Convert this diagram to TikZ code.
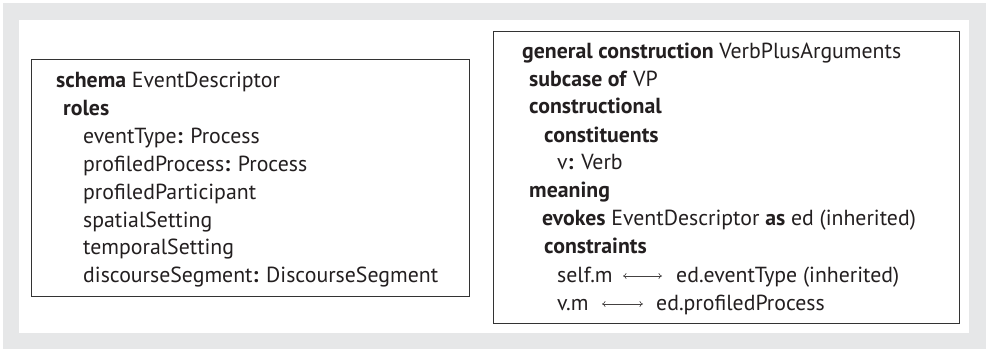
\documentclass[tikz,border=0pt]{standalone}
\usepackage{fontspec}
\setmainfont{PT Sans}
\usetikzlibrary{arrows.meta}
\definecolor{bggray}{HTML}{E6E7E8}
\definecolor{ink}{HTML}{231F20}
\definecolor{boxline}{HTML}{333333}
\begin{document}
\begin{tikzpicture}[x=1pt,y=-1pt,
  ln/.style={anchor=base west,inner sep=0pt,text=ink,font=\fontsize{21.8}{26}\selectfont},
  frame/.style={draw=boxline,line width=1.3pt,fill=white},
  corr/.style={{Computer Modern Rightarrow[length=3.5pt,width=6pt]}-{Computer Modern Rightarrow[length=3.5pt,width=6pt]},line width=0.6pt,draw=ink!85}]
\useasboundingbox (0,0) rectangle (986,349);
\fill[bggray] (3,3) rectangle (986,349);
\fill[white] (19,20) rectangle (969,333);
% left box
\node[frame,inner sep=0pt,minimum width=438pt,minimum height=237pt,anchor=north west] (lbox) at (31,59) {};
\node[ln] (s1) at (56,87) {\textbf{schema} EventDescriptor};
\node[ln] (s2) at (63,115) {\textbf{roles}};
\node[ln] (s3) at (83,143) {eventType\textbf{:} Process};
\node[ln] (s4) at (83,171) {profiledProcess\textbf{:} Process};
\node[ln] (s5) at (83,199) {profiledParticipant};
\node[ln] (s6) at (83,227) {spatialSetting};
\node[ln] (s7) at (83,254) {temporalSetting};
\node[ln] (s8) at (83,282) {discourseSegment\textbf{:} DiscourseSegment};
% right box
\node[frame,inner sep=0pt,minimum width=466pt,minimum height=292pt,anchor=north west] (rbox) at (493,31) {};
\node[ln] (c1) at (522,58) {\textbf{general construction} VerbPlusArguments};
\node[ln] (c2) at (529,86) {\textbf{subcase of} VP};
\node[ln] (c3) at (529,113) {\textbf{constructional}};
\node[ln] (c4) at (544,142) {\textbf{constituents}};
\node[ln] (c5) at (557,169) {v\textbf{:} Verb};
\node[ln] (c6) at (529,197) {\textbf{meaning}};
\node[ln] (c7) at (542,225) {\textbf{evokes} EventDescriptor \textbf{as} ed (inherited)};
\node[ln] (c8) at (544,253) {\textbf{constraints}};
\node[ln] (c9) at (557,282) {self.m};
\node[ln] (c9r) at (676,282) {ed.eventType (inherited)};
\node[ln] (c10) at (557,310) {v.m};
\node[ln] (c10r) at (656,310) {ed.profiledProcess};
\coordinate (a1l) at (623,276); \coordinate (a1r) at (662,276);
\coordinate (a2l) at (602,304); \coordinate (a2r) at (643,304);
\draw[corr] (a1l) -- (a1r);
\draw[corr] (a2l) -- (a2r);
\end{tikzpicture}
\end{document}
